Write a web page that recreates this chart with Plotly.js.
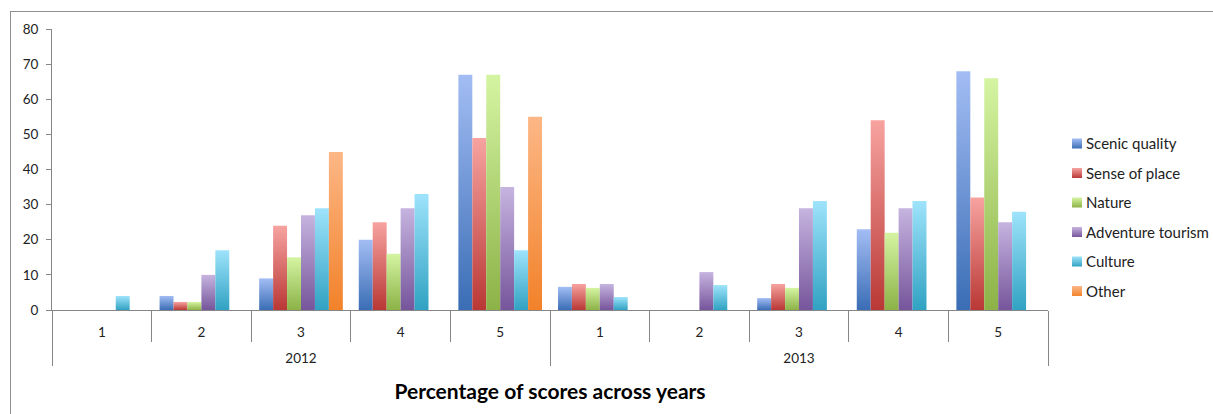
<!DOCTYPE html>
<html>
<head>
<meta charset="utf-8">
<script src="https://cdn.plot.ly/plotly-3.0.1.min.js"></script>
<style>
  html, body { margin: 0; padding: 0; background: #fff; overflow: hidden; }
  #chart { width: 1213px; height: 414px; position: absolute; left: 0; top: 0; }
  #frame { position: absolute; left: 10px; top: 11px; width: 1300px; height: 600px;
           border: 1px solid #8f8f8f; pointer-events: none; }
</style>
</head>
<body>
<svg width="0" height="0" style="position:absolute">
  <defs id="gradDefs"></defs>
</svg>
<div id="chart"></div>
<div id="frame"></div>
<script>
// ---- data ----
const years = ['2012', '2013'];
const scores = ['1', '2', '3', '4', '5'];
const seriesNames = ['Scenic quality', 'Sense of place', 'Nature', 'Adventure tourism', 'Culture', 'Other'];

const scenicQuality    = [null, 4,   9,  20, 67,   6.6, null, 3.4, 23, 68];
const senseOfPlace     = [null, 2.3, 24, 25, 49,   7.4, null, 7.4, 54, 32];
const nature           = [null, 2.3, 15, 16, 67,   6.3, null, 6.3, 22, 66];
const adventureTourism = [null, 10,  27, 29, 35,   7.4, 10.8, 29,  29, 25];
const culture          = [4,    17,  29, 33, 17,   3.7, 7.1,  31,  31, 28];
const other            = [null, null, 45, null, 55, null, null, null, null, null];

const seriesValues = [scenicQuality, senseOfPlace, nature, adventureTourism, culture, other];

// ---- style ----
const gradTop = ['#a3bdf4', '#f7a3a0', '#d5f4a2', '#c6b4e0', '#9ee3fb', '#fcb786'];
const gradBot = ['#3a6db5', '#b93835', '#8cb247', '#76559b', '#31a2c2', '#f2822a'];
const midCol  = ['#6e95d5', '#d86d6a', '#b0d374', '#9e84bd', '#68c2de', '#f79d58'];

// build gradients
const defs = document.getElementById('gradDefs');
const NS = 'http://www.w3.org/2000/svg';
gradTop.forEach((c, i) => {
  const lg = document.createElementNS(NS, 'linearGradient');
  lg.setAttribute('id', 'g' + i);
  lg.setAttribute('x1', '0'); lg.setAttribute('y1', '0');
  lg.setAttribute('x2', '0'); lg.setAttribute('y2', '1');
  const s1 = document.createElementNS(NS, 'stop');
  s1.setAttribute('offset', '0'); s1.setAttribute('stop-color', c);
  const s2 = document.createElementNS(NS, 'stop');
  s2.setAttribute('offset', '1'); s2.setAttribute('stop-color', gradBot[i]);
  lg.appendChild(s1); lg.appendChild(s2);
  defs.appendChild(lg);
});

// outer (year) labels sit one blank line lower, as in the reference
const xOuter = [];
const xInner = [];
years.forEach(y => scores.forEach(s => { xOuter.push('\u00a0<br>' + y); xInner.push(s); }));

const traces = seriesNames.map((name, i) => ({
  type: 'bar',
  name: name,
  legendgroup: 'g' + i,
  x: [xOuter, xInner],
  y: seriesValues[i],
  marker: { color: midCol[i], line: { width: 0 } },
  hoverinfo: 'name+y'
}));

const FONT = 'Lato, "Open Sans", sans-serif';
const axisFont = { family: FONT, size: 13.5, color: '#222' };

const layout = {
  width: 1213,
  height: 414,
  margin: { l: 52, r: 165, t: 29, b: 104, autoexpand: false },
  paper_bgcolor: 'rgba(0,0,0,0)',
  plot_bgcolor: 'rgba(0,0,0,0)',
  barmode: 'group',
  bargap: 0.16,
  bargroupgap: 0,
  showlegend: true,
  legend: {
    x: 0.998, xanchor: 'left',
    y: 0.65, yanchor: 'top',
    font: { family: FONT, size: 15, color: '#222' },
    tracegroupgap: 7,
    bgcolor: 'rgba(0,0,0,0)'
  },
  xaxis: {
    type: 'multicategory',
    showline: true, linecolor: '#868686', linewidth: 1,
    ticks: 'outside', tickson: 'boundaries', ticklen: 31, tickcolor: '#868686', tickwidth: 1,
    ticklabelstandoff: 10,
    showdividers: true, dividercolor: '#868686', dividerwidth: 1,
    showgrid: false, zeroline: false,
    tickfont: axisFont,
    automargin: false,
    title: {
      text: 'Percentage of scores across years',
      font: { family: FONT, size: 21, color: '#000', weight: 'bold' },
      standoff: 19
    }
  },
  yaxis: {
    range: [0, 80], dtick: 10, tick0: 0,
    showline: true, linecolor: '#868686', linewidth: 1,
    ticks: 'outside', ticklen: 5, tickcolor: '#868686',
    ticklabelstandoff: 5,
    showgrid: false, zeroline: false,
    tickfont: axisFont,
    automargin: false
  }
};

function applyGradients() {
  const gd = document.getElementById('chart');
  gd.querySelectorAll('.barlayer .trace.bars').forEach((tr, k) => {
    let idx = k;
    try { idx = tr.__data__[0].trace.index; } catch (e) {}
    tr.querySelectorAll('.point path').forEach(p => { p.style.fill = 'url(#g' + idx + ')'; });
  });
  gd.querySelectorAll('.legend .traces').forEach((tr, k) => {
    let idx = k;
    try { idx = tr.__data__[0].trace.index; } catch (e) {}
    tr.querySelectorAll('.legendpoints path').forEach(p => {
      p.style.fill = 'url(#g' + idx + ')';
      p.style.stroke = 'none';
      p.setAttribute('d', 'M5,5H-5V-5H5Z');
      p.setAttribute('transform', 'translate(31,0)');
    });
  });
}

Plotly.newPlot('chart', traces, layout, { displayModeBar: false }).then(gd => {
  applyGradients();
  gd.on('plotly_afterplot', applyGradients);
});
</script>
</body>
</html>
